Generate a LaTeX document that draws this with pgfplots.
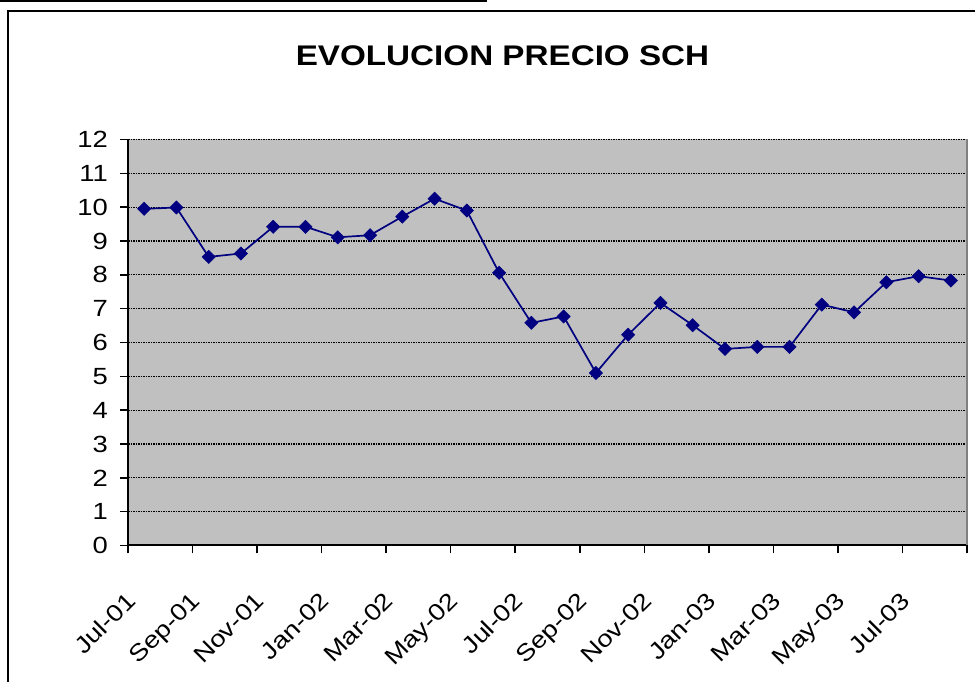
\documentclass[border=0pt]{standalone}
\usepackage{fontspec}
\setmainfont{Liberation Sans}[FakeStretch=1.17]
\usepackage{pgfplots}
\pgfplotsset{compat=1.18}
\definecolor{bgGray}{RGB}{192,192,192}
\definecolor{edgeGray}{RGB}{128,128,128}
\definecolor{navyline}{RGB}{0,0,128}
\pgfplotstableread{
x y
0 9.95
1 9.99
2 8.53
3 8.63
4 9.42
5 9.42
6 9.11
7 9.17
8 9.72
9 10.25
10 9.90
11 8.06
12 6.58
13 6.77
14 5.10
15 6.23
16 7.17
17 6.51
18 5.81
19 5.87
20 5.87
21 7.12
22 6.89
23 7.78
24 7.96
25 7.83
}\pricedata
\begin{document}
\begin{tikzpicture}[x=1bp,y=1bp]
\useasboundingbox (0,0) rectangle (975,682);
\fill[white] (0,0) rectangle (975,682);
\draw[line width=1.5bp] (0,681) -- (487,681);
\draw[line width=2bp] (8,0) -- (8,671) -- (976,671);
\node[font=\fontsize{28.5}{34}\selectfont\bfseries] at (502.5,626.5) {EVOLUCION PRECIO SCH};
\begin{axis}[
  at={(128bp,136.5bp)}, anchor=south west,
  width=839bp, height=406bp, scale only axis,
  xmin=-0.5, xmax=25.5, ymin=0, ymax=12,
  axis background/.style={fill=bgGray},
  axis x line*=bottom, axis y line*=left,
  axis line style={-, black, line width=2bp},
  xtick={-0.5,1.5,...,25.5},
  xticklabels={Jul-01,Sep-01,Nov-01,Jan-02,Mar-02,May-02,Jul-02,Sep-02,Nov-02,Jan-03,Mar-03,May-03,Jul-03,{}},
  ytick={0,1,...,12},
  tick align=outside,
  major tick length=8bp,
  tick style={black, line width=1.5bp},
  ymajorgrids,
  major grid style={black, line width=1.3bp, dash pattern=on 1.5bp off 1bp},
  tick label style={font=\fontsize{23.5}{28}\selectfont},
  /pgf/number format/assume math mode=true,
  yticklabel style={anchor=east, inner sep=0pt, xshift=-12bp},
  xticklabel style={inner sep=0pt, xshift=-3bp, yshift=-37bp, rotate=45, anchor=north east},
  clip=false,
]
\draw[edgeGray, line width=2bp] (rel axis cs:1,0) -- (rel axis cs:1,1);
\addplot[navyline, line width=1.7bp, mark=square*, mark size=4.7bp,
  mark options={rotate=45, fill=navyline, draw=navyline, line width=0.5bp}]
  table[x=x, y=y] {\pricedata};
\end{axis}
\end{tikzpicture}
\end{document}
